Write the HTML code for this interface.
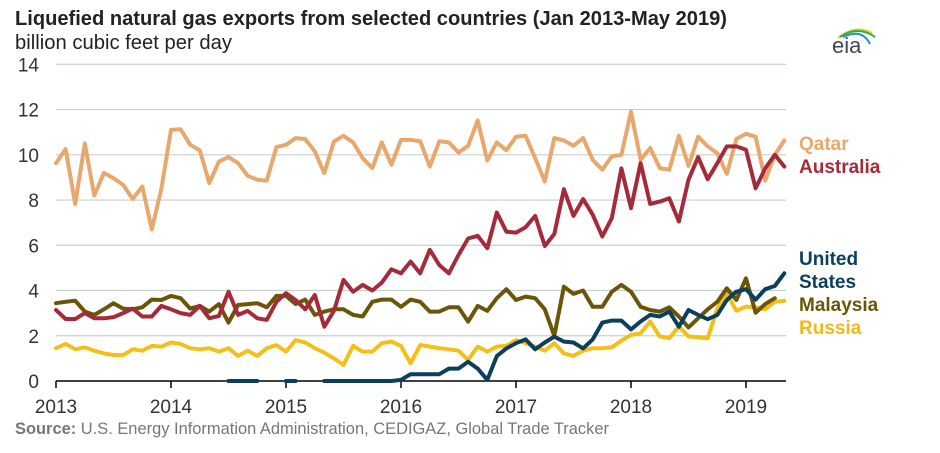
<!DOCTYPE html>
<html><head><meta charset="utf-8"><style>
body{margin:0;background:#fff;}
svg text{font-family:"Liberation Sans",Arial,sans-serif;}
</style></head><body>
<svg id="chart" width="940" height="448" viewBox="0 0 940 448" xmlns="http://www.w3.org/2000/svg">
<text x="15" y="25" font-size="20" font-weight="bold" fill="#222" textLength="712" lengthAdjust="spacingAndGlyphs">Liquefied natural gas exports from selected countries (Jan 2013-May 2019)</text>
<text x="15" y="49" font-size="20" fill="#222" textLength="217" lengthAdjust="spacingAndGlyphs">billion cubic feet per day</text>
<g>
<path d="M838 38 Q855 24 872 33" stroke="#d8d21a" stroke-width="2" fill="none"/>
<path d="M840 37 Q858 25 875 37" stroke="#3aa84a" stroke-width="2" fill="none"/>
<path d="M843 37 Q862 28 870 44" stroke="#1e8fd0" stroke-width="2" fill="none"/>
<text x="832" y="53" font-size="22" fill="#3c4a55" font-family="Liberation Serif,serif">eia</text>
</g>
<g id="grid"></g><g id="series"></g>
<g font-size="19" font-weight="bold">
<text x="799" y="150" fill="#e8a86d">Qatar</text>
<text x="799" y="173" fill="#a62b3a">Australia</text>
<text x="799" y="265" fill="#0b3f5c">United</text>
<text x="799" y="288" fill="#0b3f5c">States</text>
<text x="799" y="311" fill="#6b5508">Malaysia</text>
<text x="799" y="334" fill="#f2b918">Russia</text>
</g>
<text x="15" y="434" font-size="17" fill="#777" textLength="594" lengthAdjust="spacingAndGlyphs"><tspan font-weight="bold">Source:</tspan> U.S. Energy Information Administration, CEDIGAZ, Global Trade Tracker</text>
</svg>
<script>
const yTicks=[0,2,4,6,8,10,12,14];
const xYears=[2013,2014,2015,2016,2017,2018,2019];
const qatar=[9.63,10.25,7.83,10.5,8.2,9.2,8.97,8.67,8.05,8.6,6.7,8.5,11.1,11.13,10.44,10.2,8.75,9.7,9.9,9.63,9.07,8.9,8.86,10.34,10.44,10.74,10.7,10.15,9.19,10.59,10.84,10.55,9.85,9.41,10.55,9.56,10.66,10.66,10.6,9.48,10.6,10.55,10.1,10.4,11.52,9.75,10.55,10.2,10.8,10.84,9.85,8.82,10.74,10.63,10.4,10.74,9.78,9.34,9.93,10.0,11.9,9.78,10.3,9.41,9.34,10.84,9.51,10.8,10.37,10.07,9.16,10.7,10.93,10.8,8.86,10.0,10.63];
const australia=[3.14,2.74,2.74,3.0,2.77,2.77,2.82,3.0,3.2,2.85,2.85,3.32,3.17,3.0,2.92,3.32,2.77,2.88,3.95,2.92,3.1,2.77,2.7,3.5,3.88,3.58,3.17,3.8,2.4,3.1,4.47,3.95,4.25,4.0,4.35,4.94,4.76,5.28,4.76,5.8,5.13,4.76,5.57,6.3,6.42,5.87,7.45,6.6,6.56,6.8,7.3,5.97,6.5,8.48,7.3,8.04,7.35,6.39,7.2,9.4,7.64,9.63,7.83,7.93,8.08,7.05,8.9,9.9,8.92,9.63,10.37,10.37,10.22,8.52,9.4,10.0,9.48];
const malaysia=[3.44,3.5,3.55,3.07,2.92,3.17,3.44,3.2,3.17,3.26,3.6,3.58,3.76,3.66,3.2,3.32,3.07,3.4,2.58,3.36,3.4,3.44,3.26,3.76,3.76,3.4,3.6,2.92,3.07,3.17,3.17,2.92,2.85,3.5,3.6,3.6,3.28,3.6,3.5,3.07,3.07,3.26,3.26,2.62,3.32,3.1,3.66,4.06,3.58,3.73,3.66,3.17,2.0,4.17,3.85,4.0,3.28,3.28,3.95,4.25,3.95,3.28,3.14,3.07,3.26,2.85,2.37,2.77,3.17,3.5,4.1,3.58,4.54,3.02,3.4,3.66];
const russia=[1.45,1.64,1.4,1.49,1.34,1.22,1.15,1.15,1.4,1.34,1.55,1.52,1.7,1.64,1.45,1.4,1.45,1.3,1.45,1.11,1.34,1.11,1.45,1.59,1.3,1.81,1.7,1.45,1.25,1.0,0.71,1.55,1.3,1.3,1.67,1.74,1.55,0.78,1.59,1.52,1.45,1.4,1.34,0.93,1.52,1.3,1.52,1.55,1.81,1.67,1.52,1.34,1.67,1.22,1.11,1.34,1.45,1.45,1.49,1.78,2.04,2.11,2.63,1.97,1.89,2.4,1.97,1.93,1.89,3.2,3.85,3.11,3.29,3.26,3.17,3.5,3.54];
const unitedStates=[null,null,null,null,null,null,null,null,null,null,null,null,null,null,null,null,null,null,0,0,0,0,null,null,0,0,null,null,0,0,0,0,0,0,0,0,0.05,0.3,0.3,0.3,0.3,0.55,0.55,0.85,0.55,0.05,1.1,1.44,1.67,1.84,1.4,1.7,1.96,1.74,1.7,1.44,1.84,2.58,2.67,2.67,2.28,2.63,2.92,2.85,3.07,2.4,3.14,2.92,2.73,2.92,3.58,3.95,4.06,3.6,4.06,4.2,4.76];
const NS='http://www.w3.org/2000/svg';
const x0=56,pxYear=115,y0=381,pxUnit=22.62;
const xm=i=>x0+i*pxYear/12;
const yv=v=>y0-v*pxUnit;
const grid=document.getElementById('grid');
yTicks.forEach(t=>{
  const l=document.createElementNS(NS,'line');
  
  
  l.setAttribute('x1',x0);l.setAttribute('x2',786);l.setAttribute('y1',yv(t));l.setAttribute('y2',yv(t));
  l.setAttribute('stroke',t===0?'#000':'#c8d0cc');l.setAttribute('stroke-width',t===0?1.5:1.2);
  grid.appendChild(l);
  const tx=document.createElementNS(NS,'text');
  
  
  tx.setAttribute('x',39);tx.setAttribute('y',yv(t)+7);tx.setAttribute('text-anchor','end');tx.setAttribute('font-size','19');tx.setAttribute('fill','#333');
  tx.textContent=t;grid.appendChild(tx);
});
xYears.forEach((yr,k)=>{
  const x=x0+k*pxYear;
  const l=document.createElementNS(NS,'line');
  
  
  l.setAttribute('x1',x);l.setAttribute('x2',x);l.setAttribute('y1',y0);l.setAttribute('y2',y0+7);l.setAttribute('stroke','#000');l.setAttribute('stroke-width','1.5');
  grid.appendChild(l);
  const tx=document.createElementNS(NS,'text');
  
  
  tx.setAttribute('x',x);tx.setAttribute('y',413);tx.setAttribute('text-anchor','middle');tx.setAttribute('font-size','19');tx.setAttribute('fill','#333');
  tx.textContent=yr;grid.appendChild(tx);
});
const sg=document.getElementById('series');
function draw(arr,color,name){
  let d='',pen=false;
  arr.forEach((v,i)=>{
    if(v===null){pen=false;return;}
    d+=(pen?'L':'M')+xm(i).toFixed(1)+' '+yv(v).toFixed(1)+' ';pen=true;
  });
  const p=document.createElementNS(NS,'path');
  
  
  p.setAttribute('d',d);p.setAttribute('fill','none');p.setAttribute('stroke',color);p.setAttribute('stroke-width','4');p.setAttribute('stroke-linejoin','round');p.setAttribute('stroke-linecap','round');
  sg.appendChild(p);
}
draw(qatar,'#e8a86d','line-qatar');
draw(russia,'#f2c018','line-russia');
draw(malaysia,'#6b5508','line-malaysia');
draw(australia,'#a62b3a','line-australia');
draw(unitedStates,'#0b3f5c','line-united-states');
</script>
</body></html>
